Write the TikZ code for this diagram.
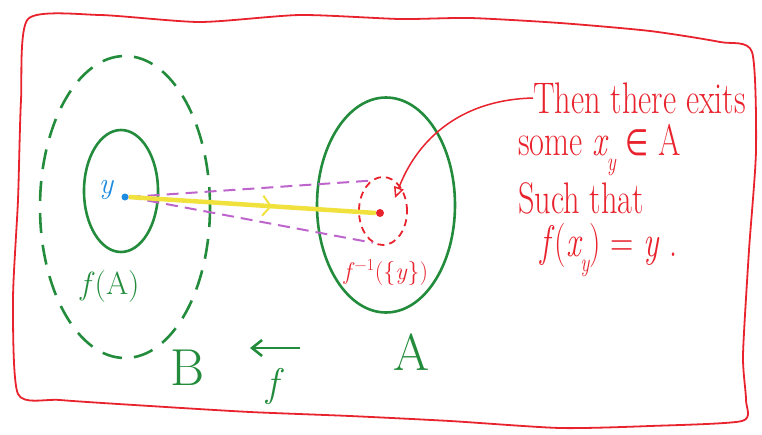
\documentclass[tikz,border=0pt]{standalone}
\usepackage{fontspec}
\newfontfamily\symfont{DejaVu Sans}
\usepackage{graphicx}
\usetikzlibrary{arrows.meta,decorations.markings,shapes.geometric}
\definecolor{fgreen}{RGB}{35,140,60}
\definecolor{fred}{RGB}{232,35,45}
\definecolor{fblue}{RGB}{30,140,225}
\definecolor{fyellow}{RGB}{240,225,60}
\definecolor{fpurple}{RGB}{190,100,205}
\newcommand{\tallbox}[1]{\scalebox{0.95}[1.3]{#1}}
\newcommand{\lowsub}[1]{\kern-0.06em\raisebox{-0.35em}{\fontsize{20}{22}\selectfont\itshape #1}}
\begin{document}
\begin{tikzpicture}[x=1pt,y=-1pt,
  gline/.style={draw=fgreen,line width=2.6pt},
  setshape/.style={ellipse,inner sep=0pt},
  gtext/.style={text=fgreen,inner sep=0pt},
  rtext/.style={text=fred,inner sep=0pt,anchor=west},
  big/.style={font=\fontsize{34}{36}\selectfont},
  huge/.style={font=\fontsize{52}{54}\selectfont}]
\useasboundingbox (0,0) rectangle (762,434);
% red hand-drawn frame
\draw[fred,line width=1.8pt,line join=round] plot[smooth cycle,tension=0.4] coordinates {
 (28,19) (100,15) (200,22) (300,15) (400,19) (470,18) (560,23) (650,31) (720,42) (752,52)
 (756,150) (749,250) (743,355) (746,400) (742,421)
 (650,426) (560,428) (450,421) (350,416) (250,412) (150,406) (60,400) (18,394)
 (13,300) (18,200) (21,100)};
% sets
\node[setshape,gline,dashed,dash pattern=on 20pt off 12pt,minimum width=170pt,minimum height=302pt] (B) at (125,207) {};
\node[setshape,gline,minimum width=74pt,minimum height=122pt] (fA) at (121,191) {};
\node[setshape,gline,minimum width=138pt,minimum height=215pt] (A) at (386,205) {};
\node[setshape,draw=fred,line width=1.8pt,dashed,dash pattern=on 7pt off 5pt,minimum width=48pt,minimum height=68pt] (fy) at (383,211) {};
% points
\node[circle,fill=fblue,inner sep=0pt,minimum size=7pt] (ydot) at (125,197) {};
\node[circle,fill=fred,inner sep=0pt,minimum size=8pt] (xdot) at (380,213) {};
\node[text=fblue,inner sep=0pt,font=\fontsize{30}{32}\selectfont\itshape] (ylab) at (106,190) {y};
% connectors
\draw[fpurple,line width=2pt,dashed,dash pattern=on 12pt off 7pt] (ydot.east) -- (fy.112);
\draw[fpurple,line width=2pt,dashed,dash pattern=on 12pt off 7pt] (ydot.east) -- (fy.252);
\draw[fyellow,line width=4.5pt,
  decoration={markings,mark=at position 0.58 with {\arrow[fyellow,line width=2pt]{Straight Barb[length=8pt,width=20pt]}}},
  postaction={decorate}] (ydot.east) -- (xdot.west);
\coordinate (tipend) at (395,198);
\node[rtext,big] (t1) at (533,98) {\tallbox{Then there exits}};
\node[rtext,big] (t2) at (518,150) {\tallbox{some \textit{x}\lowsub{y} {\symfont\fontsize{28}{30}\selectfont ∈} A}};
\node[rtext,big] (t3) at (518,198) {\tallbox{Such that}};
\node[rtext,big] (t4) at (540,250) {\tallbox{\textit{f}(\textit{x}\lowsub{y}) = \textit{y} .}};
\draw[fred,line width=1.5pt,-{Triangle[open,length=11pt,width=10pt]}] (t1.west) .. controls (455,100) and (415,145) .. (tipend);
% labels
\node[gtext,font=\fontsize{32}{34}\selectfont] (fAlab) at (110,287) {\textit{f}(A)};
\node[text=fred,inner sep=0pt,font=\fontsize{24}{26}\selectfont] (fylab) at (386,272) {\textit{f}\textsuperscript{−1}(\{\textit{y}\})};
\node[gtext,huge] (Blab) at (188,368) {B};
\node[gtext,huge] (Alab) at (412,352) {A};
\draw[fgreen,line width=2.6pt,{Straight Barb[length=10pt,width=16pt]}-] (250,348) coordinate (arrL) -- (300,348) coordinate (arrR);
\node[gtext,font=\fontsize{40}{42}\selectfont\itshape] (flab) at (272,386) {f};
\end{tikzpicture}
\end{document}
